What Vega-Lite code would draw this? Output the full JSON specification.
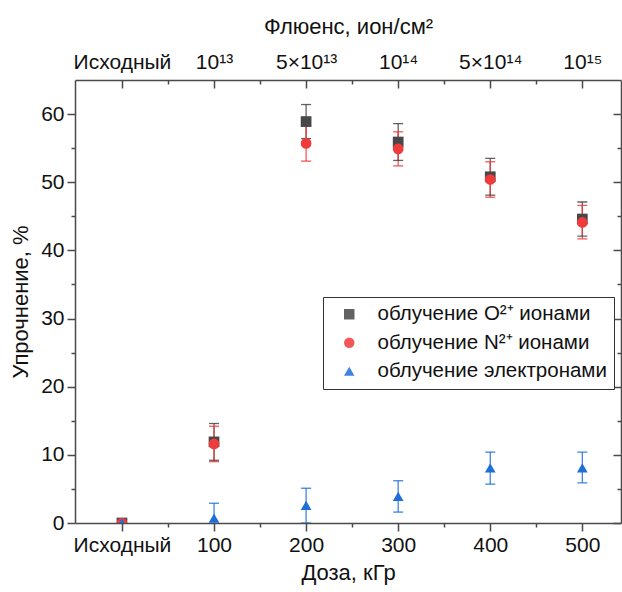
{
  "$schema": "https://vega.github.io/schema/vega-lite/v6.json",
  "width": 546,
  "height": 443,
  "autosize": {"type": "none"},
  "padding": {"left": 75, "top": 80, "right": 1, "bottom": 69},
  "background": "white",
  "config": {
    "view": {"stroke": null},
    "font": "Liberation Sans",
    "axis": {
      "grid": false,
      "domainColor": "#4a4a4a",
      "tickColor": "#4a4a4a",
      "domainWidth": 1.5,
      "tickWidth": 1.5,
      "labelColor": "#111111",
      "titleColor": "#111111",
      "labelFont": "Liberation Sans",
      "titleFont": "Liberation Sans",
      "titleFontWeight": "normal",
      "labelFontSize": 21,
      "titleFontSize": 22
    },
    "legend": {
      "orient": "none", "legendX": 248, "legendY": 217, "title": null,
      "strokeColor": "#333333", "fillColor": "white", "padding": 7,
      "symbolOffset": 9, "labelOffset": 18, "rowPadding": 7.5,
      "labelFontSize": 20.5, "labelFont": "Liberation Sans", "labelColor": "#111111",
      "symbolSize": 110, "symbolStrokeWidth": 0, "labelLimit": 400
    }
  },
  "data": {
    "values": [
      {"series": "облучение O²⁺ ионами", "dose": 0, "value": 0},
      {"series": "облучение O²⁺ ионами", "dose": 1, "value": 11.9, "lo": 9.2, "hi": 14.6},
      {"series": "облучение O²⁺ ионами", "dose": 2, "value": 58.9, "lo": 56.4, "hi": 61.4},
      {"series": "облучение O²⁺ ионами", "dose": 3, "value": 55.9, "lo": 53.2, "hi": 58.6},
      {"series": "облучение O²⁺ ионами", "dose": 4, "value": 50.8, "lo": 48.1, "hi": 53.5},
      {"series": "облучение O²⁺ ионами", "dose": 5, "value": 44.6, "lo": 42.1, "hi": 47.1},
      {"series": "облучение N²⁺ ионами", "dose": 0, "value": 0},
      {"series": "облучение N²⁺ ионами", "dose": 1, "value": 11.6, "lo": 9.0, "hi": 14.2},
      {"series": "облучение N²⁺ ионами", "dose": 2, "value": 55.7, "lo": 53.1, "hi": 58.3},
      {"series": "облучение N²⁺ ионами", "dose": 3, "value": 54.9, "lo": 52.4, "hi": 57.4},
      {"series": "облучение N²⁺ ионами", "dose": 4, "value": 50.4, "lo": 47.8, "hi": 53.0},
      {"series": "облучение N²⁺ ионами", "dose": 5, "value": 44.1, "lo": 41.7, "hi": 46.6},
      {"series": "облучение электронами", "dose": 0, "value": 0},
      {"series": "облучение электронами", "dose": 1, "value": 0.7, "lo": -1.5, "hi": 2.9},
      {"series": "облучение электронами", "dose": 2, "value": 2.6, "lo": 0.0, "hi": 5.1},
      {"series": "облучение электронами", "dose": 3, "value": 3.9, "lo": 1.6, "hi": 6.2},
      {"series": "облучение электронами", "dose": 4, "value": 8.1, "lo": 5.7, "hi": 10.4},
      {"series": "облучение электронами", "dose": 5, "value": 8.1, "lo": 5.9, "hi": 10.4}
    ]
  },
  "layer": [
    {
      "transform": [{"filter": "isValid(datum.lo)"}],
      "mark": {"type": "rule", "strokeWidth": 1.3, "opacity": 0.85, "clip": true},
      "encoding": {
        "x": {"field": "dose", "type": "quantitative",
          "scale": {"domain": [-0.51, 5.42], "nice": false, "zero": false},
          "axis": {"orient": "bottom", "values": [0, 1, 2, 3, 4, 5],
            "labelExpr": "datum.value == 0 ? 'Исходный' : datum.value + '00'",
            "tickSize": 8, "labelPadding": 3, "labelFlush": false,
            "title": "Доза, кГр", "titlePadding": 7}},
        "y": {"field": "lo", "type": "quantitative",
          "scale": {"domain": [0, 65], "nice": false, "zero": false},
          "axis": {"orient": "left", "values": [0, 10, 20, 30, 40, 50, 60],
            "tickSize": 8, "labelPadding": 3, "title": "Упрочнение, %", "titlePadding": 8}},
        "y2": {"field": "hi"},
        "color": {"field": "series", "type": "nominal"}
      }
    },
    {
      "transform": [{"filter": "isValid(datum.hi)"}],
      "mark": {"type": "tick", "orient": "horizontal", "size": 10, "thickness": 1.3, "opacity": 0.85, "clip": true},
      "encoding": {
        "x": {"field": "dose", "type": "quantitative",
          "scale": {"domain": [-0.51, 5.42], "nice": false, "zero": false},
          "axis": {"orient": "bottom", "values": [0.5, 1.5, 2.5, 3.5, 4.5],
            "tickSize": 4, "labels": false, "domain": false, "title": null}},
        "y": {"field": "hi", "type": "quantitative",
          "scale": {"domain": [0, 65], "nice": false, "zero": false},
          "axis": {"orient": "left", "values": [5, 15, 25, 35, 45, 55],
            "tickSize": 4, "labels": false, "domain": false, "title": null}},
        "color": {"field": "series", "type": "nominal"}
      }
    },
    {
      "transform": [{"filter": "isValid(datum.lo)"}],
      "mark": {"type": "tick", "orient": "horizontal", "size": 10, "thickness": 1.3, "opacity": 0.85, "clip": true},
      "encoding": {
        "x": {"field": "dose", "type": "quantitative",
          "scale": {"domain": [-0.51, 5.42], "nice": false, "zero": false},
          "axis": {"orient": "top", "values": [0, 1, 2, 3, 4, 5],
            "labelExpr": "['Исходный', '10¹³', '5×10¹³', '10¹⁴', '5×10¹⁴', '10¹⁵'][datum.value]",
            "tickSize": -8, "labelPadding": 16, "labelFlush": false,
            "title": "Флюенс, ион/см²", "titlePadding": 13}},
        "y": {"field": "lo", "type": "quantitative",
          "scale": {"domain": [0, 65], "nice": false, "zero": false},
          "axis": {"orient": "right", "values": [0, 10, 20, 30, 40, 50, 60],
            "tickSize": -8, "labels": false, "title": null}},
        "color": {"field": "series", "type": "nominal"}
      }
    },
    {
      "mark": {"type": "point", "filled": true, "size": 115, "opacity": 1, "strokeWidth": 0, "clip": true},
      "encoding": {
        "x": {"field": "dose", "type": "quantitative",
          "scale": {"domain": [-0.51, 5.42], "nice": false, "zero": false},
          "axis": {"orient": "top", "values": [0.5, 1.5, 2.5, 3.5, 4.5],
            "tickSize": -4, "labels": false, "domain": false, "title": null}},
        "y": {"field": "value", "type": "quantitative",
          "scale": {"domain": [0, 65], "nice": false, "zero": false},
          "axis": {"orient": "right", "values": [5, 15, 25, 35, 45, 55],
            "tickSize": -4, "labels": false, "domain": false, "title": null}},
        "color": {"field": "series", "type": "nominal",
          "scale": {"domain": ["облучение O²⁺ ионами", "облучение N²⁺ ионами", "облучение электронами"],
            "range": ["#474747", "#ef3b3b", "#1f6fd9"]}},
        "shape": {"field": "series", "type": "nominal",
          "scale": {"domain": ["облучение O²⁺ ионами", "облучение N²⁺ ионами", "облучение электронами"],
            "range": ["square", "circle", "triangle-up"]}}
      }
    }
  ],
  "resolve": {"axis": {"x": "independent", "y": "independent"}}
}
